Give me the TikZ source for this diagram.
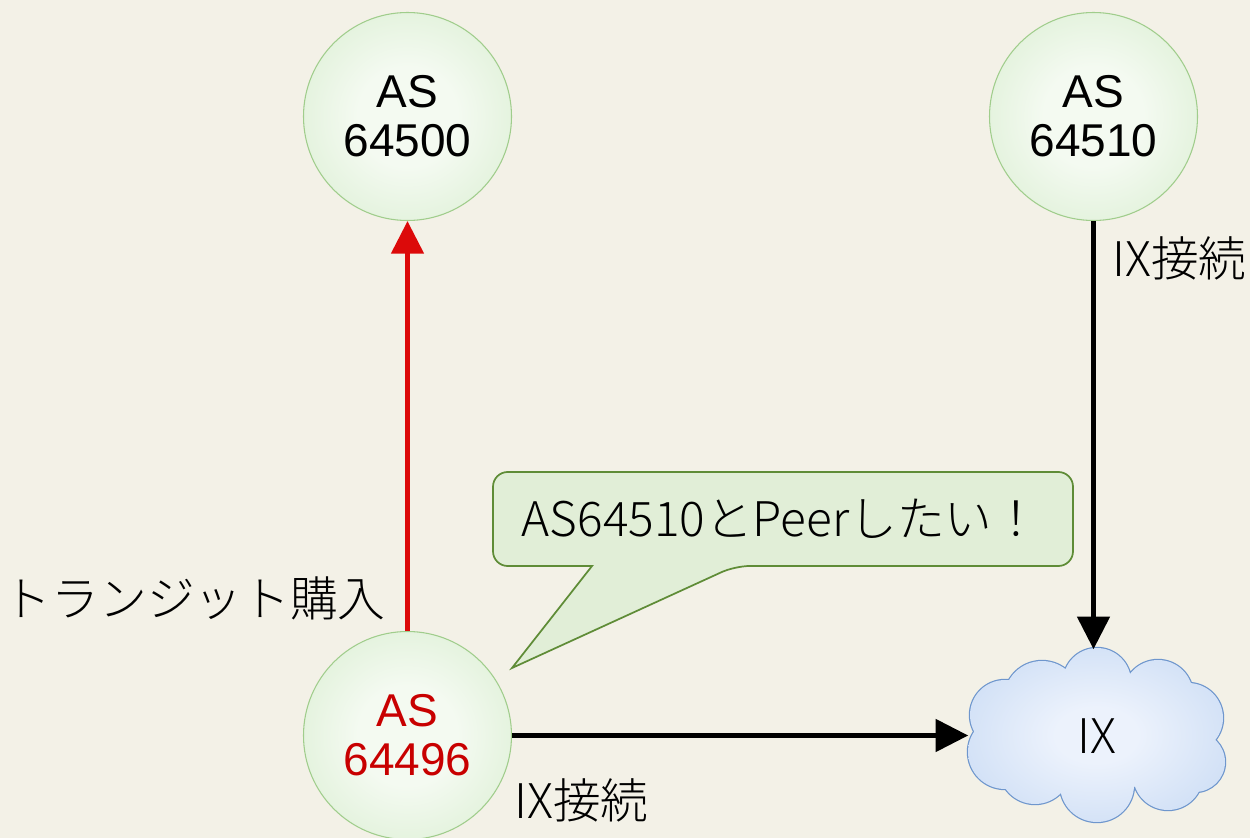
\documentclass[tikz,border=0pt]{standalone}
\usepackage{fontspec}
\newfontfamily\cjk{Noto Sans CJK JP Light}
\newfontfamily\arialf{Liberation Sans}
\usetikzlibrary{arrows.meta}
\definecolor{bg}{RGB}{243,241,231}
\definecolor{gin}{RGB}{244,250,241}
\definecolor{gout}{RGB}{200,230,188}
\definecolor{gline}{RGB}{160,205,140}
\definecolor{bin}{RGB}{236,242,252}
\definecolor{bout}{RGB}{192,213,242}
\definecolor{bline}{RGB}{110,150,205}
\definecolor{cfill}{RGB}{225,238,215}
\definecolor{cline}{RGB}{95,140,55}
\definecolor{redc}{RGB}{220,10,10}
\definecolor{redt}{RGB}{200,0,0}
\pgfdeclareradialshading{ballg}{\pgfpoint{0bp}{0bp}}{color(0bp)=(gin);color(12bp)=(gin);color(50bp)=(gout)}
\pgfdeclareradialshading{ballb}{\pgfpoint{0bp}{0bp}}{color(0bp)=(bin);color(8bp)=(bin);color(40bp)=(bout);color(50bp)=(bout)}
\tikzset{
  asnode/.style={circle,minimum size=156pt,inner sep=0pt,draw=gline,line width=0.8pt,
    shading=ballg,align=center,font=\arialf\fontsize{34.5}{36.8}\selectfont},
  ixnode/.style={rectangle,minimum width=187.5pt,minimum height=129pt,inner sep=0pt,
    font=\cjk\fontsize{35.8}{40}\selectfont},
  jtext/.style={font=\cjk\fontsize{35.8}{40}\selectfont,inner sep=0pt},
  redarrow/.style={draw=redc,line width=3.75pt,-{Triangle[length=24.5pt,width=24pt]}},
  blackarrow/.style={draw=black,line width=3.75pt,-{Triangle[length=24.5pt,width=24pt]}},
  calloutbox/.style={draw=cline,fill=cfill,line width=1.3pt,line join=miter}
}
\newcommand\cloudpath{%
  (1097,682) circle[radius=25.5pt]
  (1042,699) circle[radius=28.5pt]
  (1005,715) circle[radius=26.25pt]
  (1005,752) circle[radius=27.75pt]
  (1035,768) circle[radius=27pt]
  (1097,785) circle[radius=27.75pt]
  (1168,775) circle[radius=26.25pt]
  (1195,762) circle[radius=22.5pt]
  (1188,718) circle[radius=26.25pt]
  (1158,695) circle[radius=26.25pt]
  (1095,737) ellipse[x radius=71pt,y radius=41pt]}
\begin{document}
\begin{tikzpicture}[x=0.75pt,y=-0.75pt]
\path[fill=bg,use as bounding box] (0,0) rectangle (1250,838);
% circles
\node[asnode] (a500) at (407.5,116.5) {AS\\64500};
\node[asnode] (a510) at (1093.5,116.5) {AS\\64510};
\node[asnode,text=redt] (a496) at (407.5,735.5) {AS\\64496};
% cloud
\draw[bline,line width=1.8pt] \cloudpath;
\shade[shading=ballb] \cloudpath;
\node[ixnode] (ix) at (1093.5,735.5) {};
\node[jtext] (ixlabel) at (1097,736) {IX};
% connectors
\draw[redarrow] (a496) -- (a500);
\draw[blackarrow] (a510) -- (ix);
\draw[blackarrow] (a496) -- (ix);
% labels
\node[jtext,anchor=east] (lbltransit) at (386,598) {トランジット購入};
\node[jtext,anchor=west] (lblix1) at (1112,258) {IX接続};
\node[jtext,anchor=west] (lblix2) at (514,800) {IX接続};
% callout
\coordinate (tip) at (512,668);
\draw[calloutbox] (tip) -- (592,566) [rounded corners=11pt] -- (493,566) -- (493,472) -- (1073,472) -- (1073,566) -- (735,566) [sharp corners] -- cycle;
\node[jtext] (callout) at (781,519) {AS64510とPeerしたい！};
\end{tikzpicture}
\end{document}
